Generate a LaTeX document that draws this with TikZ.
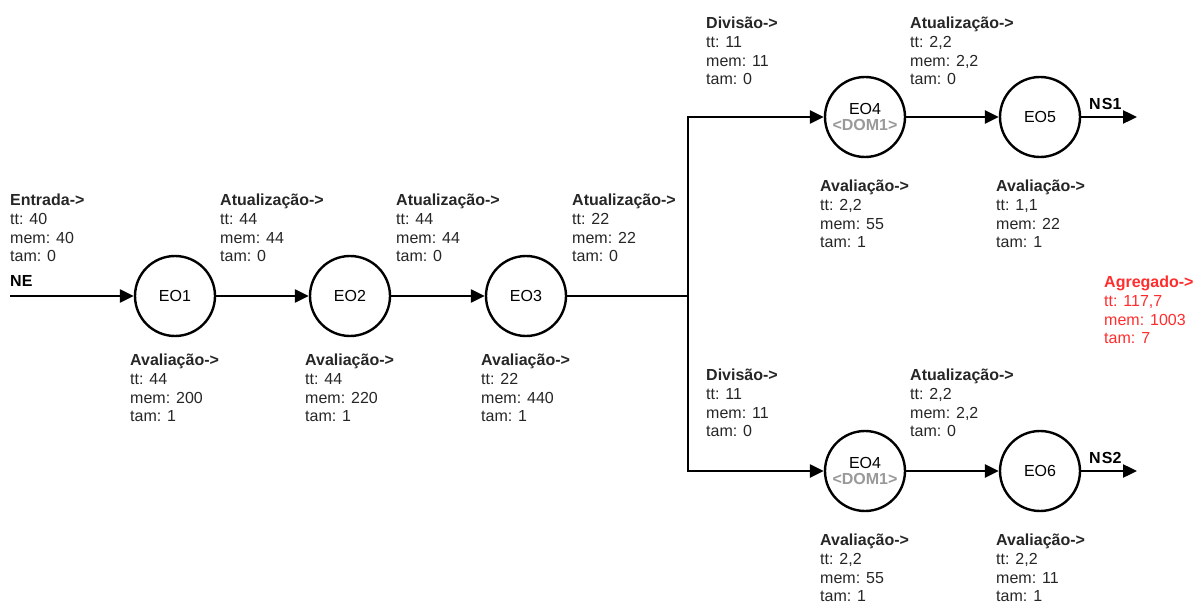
\documentclass[tikz,border=0pt]{standalone}
\usepackage{fontspec}
\setmainfont{Liberation Sans}
\usetikzlibrary{arrows.meta}
\definecolor{txt}{HTML}{262626}
\definecolor{agg}{HTML}{FF2D2D}
\definecolor{dom}{HTML}{999999}
\begin{document}
\begin{tikzpicture}[x=1pt,y=-1pt,
  eo/.style={circle,draw,line width=2.4pt,minimum size=80pt,inner sep=0pt,align=center,text=black,font=\fontsize{16}{18}\selectfont},
  info/.style={anchor=north west,inner sep=0pt,align=left,text=txt,font=\fontsize{16}{18.7}\selectfont},
  tag/.style={anchor=west,inner sep=0pt,text=black,font=\fontsize{16}{18}\selectfont\bfseries},
  flow/.style={line width=2.4pt,-{Triangle[length=14pt,width=13pt]}},
  wire/.style={line width=2.4pt}]
\useasboundingbox (0,0) rectangle (1200,604);

% operator nodes
\node[eo] (eo1) at (175,296) {EO1};
\node[eo] (eo2) at (350,296) {EO2};
\node[eo] (eo3) at (526,296) {EO3};
\node[eo] (eo4a) at (865,117) {EO4\\[-2pt]{\color{dom}\bfseries <DOM1>}};
\node[eo] (eo5) at (1040,117) {EO5};
\node[eo] (eo4b) at (865,471) {EO4\\[-2pt]{\color{dom}\bfseries <DOM1>}};
\node[eo] (eo6) at (1040,471) {EO6};

% free ends
\coordinate (ne) at (10,296);
\coordinate (j) at (688,296);
\coordinate (ns1) at (1137,117);
\coordinate (ns2) at (1137,471);

% connectors
\draw[flow] (ne) -- (eo1);
\draw[flow] (eo1) -- (eo2);
\draw[flow] (eo2) -- (eo3);
\draw[wire] (eo3) -- (j);
\draw[flow] (j) |- (eo4a);
\draw[flow] (j) |- (eo4b);
\draw[flow] (eo4a) -- (eo5);
\draw[flow] (eo4b) -- (eo6);
\draw[flow] (eo5) -- (ns1);
\draw[flow] (eo6) -- (ns2);

% tags
\node[tag] (tne) at (10,281) {NE};
\node[tag] (tns1) at (1089,104) {N\kern1.2ptS1};
\node[tag] (tns2) at (1089,458) {N\kern1.2ptS2};

% info blocks
\node[info] (in) at (10,194) {\textbf{Entrada->}\\tt: 40\\mem: 40\\tam: 0};
\node[info] (u1) at (220,194) {\textbf{Atualização->}\\tt: 44\\mem: 44\\tam: 0};
\node[info] (u2) at (396,194) {\textbf{Atualização->}\\tt: 44\\mem: 44\\tam: 0};
\node[info] (u3) at (572,194) {\textbf{Atualização->}\\tt: 22\\mem: 22\\tam: 0};

\node[info] (a1) at (130,354) {\textbf{Avaliação->}\\tt: 44\\mem: 200\\tam: 1};
\node[info] (a2) at (305,354) {\textbf{Avaliação->}\\tt: 44\\mem: 220\\tam: 1};
\node[info] (a3) at (481,354) {\textbf{Avaliação->}\\tt: 22\\mem: 440\\tam: 1};

\node[info] (d1) at (706,17) {\textbf{Divisão->}\\tt: 11\\mem: 11\\tam: 0};
\node[info] (u4) at (910,17) {\textbf{Atualização->}\\tt: 2,2\\mem: 2,2\\tam: 0};
\node[info] (a4) at (820,180) {\textbf{Avaliação->}\\tt: 2,2\\mem: 55\\tam: 1};
\node[info] (a5) at (996,180) {\textbf{Avaliação->}\\tt: 1,1\\mem: 22\\tam: 1};

\node[info,text=agg] (ag) at (1104,276) {\textbf{Agregado->}\\tt: 117,7\\mem: 1003\\tam: 7};

\node[info] (d2) at (706,369) {\textbf{Divisão->}\\tt: 11\\mem: 11\\tam: 0};
\node[info] (u5) at (910,369) {\textbf{Atualização->}\\tt: 2,2\\mem: 2,2\\tam: 0};
\node[info] (a6) at (820,534) {\textbf{Avaliação->}\\tt: 2,2\\mem: 55\\tam: 1};
\node[info] (a7) at (996,534) {\textbf{Avaliação->}\\tt: 2,2\\mem: 11\\tam: 1};
\end{tikzpicture}
\end{document}
